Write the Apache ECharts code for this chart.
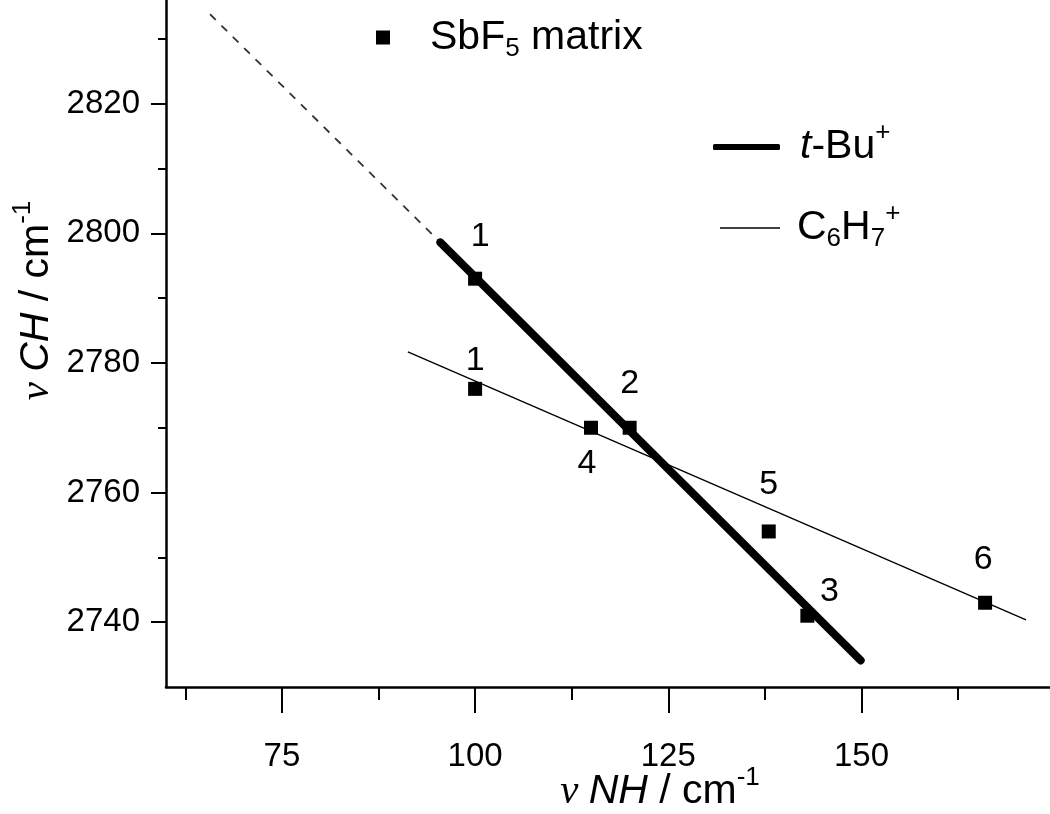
<!DOCTYPE html>
<html>
<head>
<meta charset="utf-8">
<script src="https://cdn.jsdelivr.net/npm/echarts@6/dist/echarts.min.js"></script>
<style>
  html, body { margin: 0; padding: 0; background: #fff; }
  #chart { width: 1050px; height: 814px; }
</style>
</head>
<body>
<div id="chart"></div>
<script>
(function() {
  // measured points: nu NH vs nu CH, with their numbers
  var pointNH = [100, 100, 120, 143, 115, 138, 166];
  var pointCH = [2793, 2776, 2770, 2741, 2770, 2754, 2743];
  var pointTags = ["1", "1", "2", "3", "4", "5", "6"];

  // fitted lines (end points)
  var tBuLine = [[95.5, 2798.6], [149.9, 2734.1]];
  var tBuDashed = [[65.7, 2833.8], [95.5, 2798.6]];
  var c6h7Line = [[91.3, 2781.7], [171.3, 2740.35]];

  // ticks
  var xMajor = [75, 100, 125, 150];
  var xMinor = [62.5, 87.5, 112.5, 137.5, 162.5];
  var yMajor = [2740, 2760, 2780, 2800, 2820];
  var yMinor = [2750, 2770, 2790, 2810, 2830];

  // where the number sits relative to its square (px)
  var tagOffset = [[5, -42], [0, -28], [0, -44], [22, -24], [-4, 36], [0, -47], [-2, -43]];

  var font = "Liberation Sans, Arial, sans-serif";
  var rich = {
    n: { fontSize: 41, fontFamily: font, color: "#000" },
    it: { fontSize: 41, fontFamily: font, fontStyle: "italic", color: "#000" },
    nu: { fontSize: 41, fontFamily: "Liberation Serif, serif", fontStyle: "italic", color: "#000" },
    sub: { fontSize: 26, fontFamily: font, color: "#000", padding: [22, 0, 0, 0] },
    sup: { fontSize: 26, fontFamily: font, color: "#000", padding: [0, 0, 28, 0] }
  };

  var myChart = echarts.init(document.getElementById("chart"));

  var tickLine = { color: "#000", width: 2 };
  var plain = function(v) { return String(v); };

  var option = {
    animation: false,
    backgroundColor: "#fff",
    grid: { left: 166, right: 0, top: 0, bottom: 127, outerBoundsMode: "none", containLabel: false },
    legend: [
      {
        data: ["SbF5 matrix"],
        left: 376, top: 17, padding: 0,
        icon: "rect", itemWidth: 14, itemHeight: 14,
        selectedMode: false,
        formatter: function() { return "{n|SbF}{sub|5}{n| matrix}"; },
        textStyle: { padding: [0, 0, 0, 35], rich: rich }
      },
      {
        data: [{ name: "t-Bu+", icon: "roundRect" }],
        left: 713, top: 120, padding: 0,
        itemWidth: 67, itemHeight: 6,
        selectedMode: false,
        formatter: function() { return "{it|t}{n|-Bu}{sup|+}"; },
        textStyle: { padding: [0, 0, 0, 15], rich: rich }
      },
      {
        data: [{ name: "C6H7+", icon: "rect" }],
        left: 720, top: 201, padding: 0,
        itemWidth: 60, itemHeight: 1.5,
        selectedMode: false,
        formatter: function() { return "{n|C}{sub|6}{n|H}{sub|7}{sup|+}"; },
        textStyle: { padding: [0, 0, 0, 12], rich: rich }
      }
    ],
    xAxis: [
      {
        type: "value", min: 60, max: 174.4, position: "bottom",
        name: "{nu|ν }{it|NH}{n| / cm}{sup|-1}",
        nameLocation: "middle", nameGap: 78, nameMoveOverlap: false,
        nameTextStyle: { rich: rich, padding: [0, 0, 0, 104] },
        axisLine: { lineStyle: { color: "#000", width: 2.5 } },
        axisTick: { customValues: xMajor, length: 26, lineStyle: tickLine },
        axisLabel: { customValues: xMajor, margin: 53, fontSize: 33, fontFamily: font, color: "#000", formatter: plain },
        splitLine: { show: false }
      },
      {
        type: "value", min: 60, max: 174.4, position: "bottom",
        axisLine: { show: false },
        axisTick: { customValues: xMinor, length: 13, lineStyle: tickLine },
        axisLabel: { show: false },
        splitLine: { show: false }
      }
    ],
    yAxis: [
      {
        type: "value", min: 2730, max: 2836, position: "left",
        name: "{nu|ν }{it|CH}{n| / cm}{sup|-1}",
        nameLocation: "middle", nameGap: 102, nameMoveOverlap: false,
        nameTextStyle: { rich: rich, padding: [0, 0, 0, 86] },
        axisLine: { lineStyle: { color: "#000", width: 2.5 } },
        axisTick: { customValues: yMajor, length: 15, lineStyle: tickLine },
        axisLabel: { customValues: yMajor, margin: 26, fontSize: 33, fontFamily: font, color: "#000", formatter: plain },
        splitLine: { show: false }
      },
      {
        type: "value", min: 2730, max: 2836, position: "left",
        axisLine: { show: false },
        axisTick: { customValues: yMinor, length: 8, lineStyle: tickLine },
        axisLabel: { show: false },
        splitLine: { show: false }
      }
    ],
    series: [
      {
        name: "extension",
        type: "line",
        data: tBuDashed,
        symbol: "none",
        itemStyle: { color: "#333" },
        lineStyle: { color: "#333", width: 1.8, type: [8, 8] },
        z: 2
      },
      {
        name: "t-Bu+",
        type: "line",
        data: tBuLine,
        symbol: "none",
        itemStyle: { color: "#000" },
        lineStyle: { color: "#000", width: 8, cap: "round" },
        z: 3
      },
      {
        name: "C6H7+",
        type: "line",
        data: c6h7Line,
        symbol: "none",
        itemStyle: { color: "#000" },
        lineStyle: { color: "#000", width: 1.4 },
        z: 3
      },
      {
        name: "SbF5 matrix",
        type: "scatter",
        symbol: "rect",
        symbolSize: 14,
        itemStyle: { color: "#000", opacity: 1 },
        z: 5,
        label: {
          show: true,
          position: "inside",
          fontSize: 34,
          fontFamily: font,
          color: "#000",
          formatter: function(p) { return pointTags[p.dataIndex]; }
        },
        data: pointNH.map(function(x, i) {
          return { value: [x, pointCH[i]], label: { offset: tagOffset[i] } };
        })
      }
    ]
  };
  myChart.setOption(option);

  window.addEventListener("resize", function() {
    myChart.resize();
  });
})();
</script>
</body>
</html>
